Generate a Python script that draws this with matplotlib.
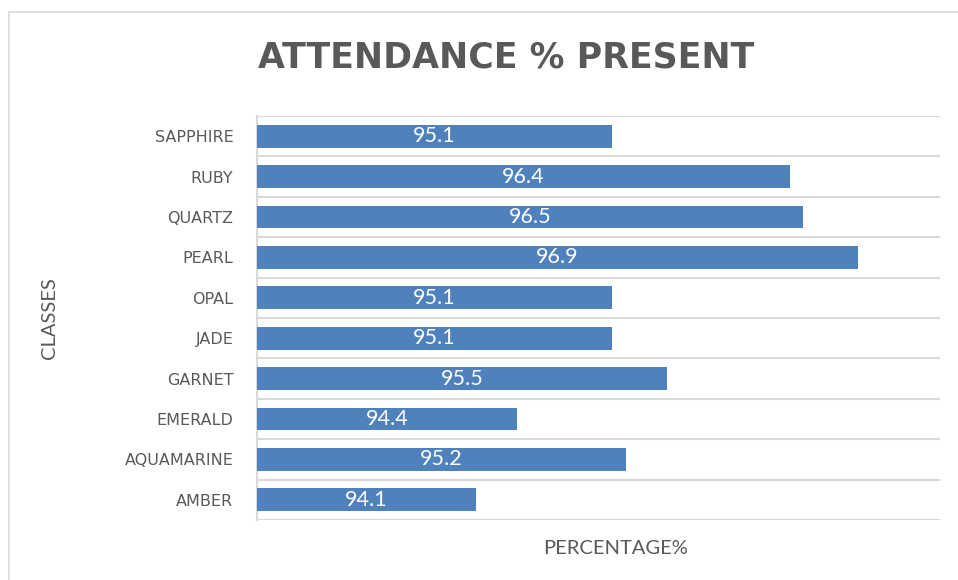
import numpy as np
import matplotlib
matplotlib.use("Agg")
import matplotlib.pyplot as plt
from matplotlib.patches import Rectangle

# data (bottom to top, like the chart)
classes = ["AMBER", "AQUAMARINE", "EMERALD", "GARNET", "JADE",
           "OPAL", "PEARL", "QUARTZ", "RUBY", "SAPPHIRE"]
attendance = [94.1, 95.2, 94.4, 95.5, 95.1, 95.1, 96.9, 96.5, 96.4, 95.1]

plt.rcParams['font.family'] = ['Lato', 'DejaVu Sans']
text_grey = '#595959'
grid_grey = '#d9d9d9'
bar_blue = '#4F81BD'

fig = plt.figure(figsize=(9.58, 5.8), dpi=100)
ax = fig.add_axes([257 / 958, 1 - 520 / 580, (940 - 257) / 958, (520 - 116) / 580])

# outer chart border (only top/left visible in the crop)
fig.patches.append(Rectangle((9 / 958, -0.1), 1.2, 1 - 11.5 / 580 + 0.1,
                             transform=fig.transFigure, fill=False,
                             edgecolor=grid_grey, linewidth=1.2))

bars = ax.barh(classes, attendance, height=0.56, color=bar_blue, zorder=3)
ax.set_xlim(92.5, 97.5)
ax.set_ylim(-0.5, len(classes) - 0.5)

ax.bar_label(bars, labels=[f"{v:.1f}" for v in attendance], label_type='center',
             color='white', fontsize=15.5, zorder=4)

# category boundary gridlines
ax.set_yticks(np.arange(-0.5, len(classes), 1), minor=True)
ax.grid(axis='y', which='minor', color=grid_grey, linewidth=1.5, zorder=0)
ax.set_xticks([])
ax.tick_params(axis='y', which='both', length=0, pad=17, labelsize=11.5,
               labelcolor=text_grey)
for lbl in ax.get_yticklabels():
    lbl.set_family(['DejaVu Sans'])

for side in ['top', 'right', 'bottom']:
    ax.spines[side].set_visible(False)
ax.spines['left'].set_color(grid_grey)
ax.spines['left'].set_linewidth(1.5)

ax.set_ylabel("CLASSES", fontsize=14.5, color=text_grey)
ax.yaxis.set_label_coords((58 - 257) / 683, (520 - 318) / 404)
ax.set_xlabel("PERCENTAGE%", fontsize=14.5, color=text_grey)
ax.xaxis.set_label_coords((616 - 257) / 683, -(540 - 520) / 404)

fig.text(506 / 958, 1 - 58 / 580, "ATTENDANCE % PRESENT", ha='center', va='center',
         fontsize=25, fontweight='bold', color=text_grey,
         family=['DejaVu Sans'])

fig.savefig("out.png", dpi=100)
